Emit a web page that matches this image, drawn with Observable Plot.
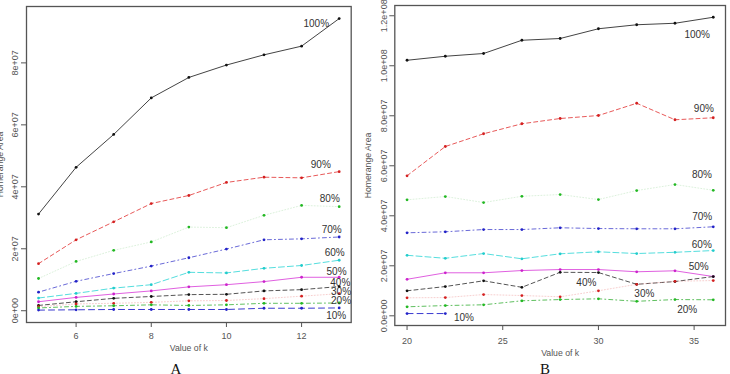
<!DOCTYPE html>
<html>
<head>
<meta charset="utf-8">
<script src="https://cdn.jsdelivr.net/npm/d3@7"></script>
<script src="https://cdn.jsdelivr.net/npm/@observablehq/plot@0.6"></script>
<style>
  html, body { margin: 0; padding: 0; background: #fff; overflow: hidden; }
  #wrap { position: relative; width: 730px; height: 374px; overflow: hidden; }
  .panel { position: absolute; top: 0; }
  .cap { position: absolute; font-family: "Liberation Serif", "Times New Roman", serif; font-size: 15px; line-height: 15px; color: #111; transform: translateX(-50%); }
</style>
</head>
<body>
<div id="wrap"></div>
<script>
// ---------------- Panel A data ----------------
const kA = [5, 6, 7, 8, 9, 10, 11, 12, 13];
const A100 = [3.12e7, 4.63e7, 5.69e7, 6.87e7, 7.53e7, 7.93e7, 8.26e7, 8.54e7, 9.43e7];
const A90  = [1.52e7, 2.29e7, 2.87e7, 3.46e7, 3.72e7, 4.14e7, 4.31e7, 4.29e7, 4.49e7];
const A80  = [1.04e7, 1.59e7, 1.95e7, 2.22e7, 2.70e7, 2.68e7, 3.08e7, 3.40e7, 3.36e7];
const A70  = [0.60e7, 0.95e7, 1.20e7, 1.44e7, 1.71e7, 1.99e7, 2.29e7, 2.32e7, 2.38e7];
const A60  = [0.41e7, 0.56e7, 0.73e7, 0.84e7, 1.24e7, 1.22e7, 1.37e7, 1.46e7, 1.63e7];
const A50  = [0.29e7, 0.43e7, 0.54e7, 0.64e7, 0.77e7, 0.84e7, 0.94e7, 1.08e7, 1.08e7];
const A40  = [0.17e7, 0.29e7, 0.40e7, 0.46e7, 0.52e7, 0.53e7, 0.64e7, 0.68e7, 0.78e7];
const A30  = [0.13e7, 0.22e7, 0.24e7, 0.27e7, 0.32e7, 0.33e7, 0.39e7, 0.47e7, 0.55e7];
const A20  = [0.09e7, 0.14e7, 0.16e7, 0.19e7, 0.17e7, 0.19e7, 0.24e7, 0.24e7, 0.25e7];
const A10  = [0.02e7, 0.03e7, 0.04e7, 0.04e7, 0.04e7, 0.04e7, 0.08e7, 0.08e7, 0.09e7];
const xTicksA = [6, 8, 10, 12];
const yTicksA = [0, 2e7, 4e7, 6e7, 8e7];
const yTickLabelsA = ["0e+00", "2e+07", "4e+07", "6e+07", "8e+07"];
const labelsA = ["100%", "90%", "80%", "70%", "60%", "50%", "40%", "30%", "20%", "10%"];
const labelKA = [12.39, 12.51, 12.75, 12.80, 12.88, 12.93, 13.03, 13.05, 13.05, 12.92];
const labelVA = [9.27e7, 4.70e7, 3.60e7, 2.62e7, 1.87e7, 1.26e7, 0.91e7, 0.61e7, 0.32e7, -0.16e7];

// ---------------- Panel B data ----------------
const kB = [20, 22, 24, 26, 28, 30, 32, 34, 36];
const kB10 = [20, 22];
const B100 = [10.22e7, 10.38e7, 10.49e7, 11.02e7, 11.09e7, 11.48e7, 11.64e7, 11.70e7, 11.94e7];
const B90  = [5.60e7, 6.77e7, 7.28e7, 7.68e7, 7.89e7, 8.01e7, 8.50e7, 7.84e7, 7.92e7];
const B80  = [4.64e7, 4.77e7, 4.53e7, 4.78e7, 4.85e7, 4.65e7, 5.01e7, 5.25e7, 5.02e7];
const B70  = [3.32e7, 3.36e7, 3.45e7, 3.45e7, 3.52e7, 3.49e7, 3.48e7, 3.48e7, 3.56e7];
const B60  = [2.42e7, 2.30e7, 2.49e7, 2.28e7, 2.48e7, 2.56e7, 2.49e7, 2.54e7, 2.61e7];
const B50  = [1.46e7, 1.72e7, 1.72e7, 1.81e7, 1.85e7, 1.85e7, 1.76e7, 1.80e7, 1.57e7];
const B40  = [1.00e7, 1.17e7, 1.40e7, 1.14e7, 1.74e7, 1.73e7, 1.26e7, 1.37e7, 1.57e7];
const B30  = [0.72e7, 0.73e7, 0.85e7, 0.81e7, 0.76e7, 1.00e7, 1.26e7, 1.38e7, 1.41e7];
const B20  = [0.36e7, 0.41e7, 0.44e7, 0.60e7, 0.65e7, 0.68e7, 0.58e7, 0.65e7, 0.64e7];
const B10  = [0.09e7, 0.09e7];
const xTicksB = [20, 25, 30, 35];
const yTicksB = [0, 2e7, 4e7, 6e7, 8e7, 1e8, 1.2e8];
const yTickLabelsB = ["0.0e+00", "2.0e+07", "4.0e+07", "6.0e+07", "8.0e+07", "1.0e+08", "1.2e+08"];
const labelsB = ["100%", "90%", "80%", "70%", "60%", "50%", "40%", "30%", "20%", "10%"];
const labelKB = [35.16, 35.51, 35.41, 35.42, 35.40, 35.24, 29.37, 32.40, 34.64, 22.97];
const labelVB = [11.22e7, 8.28e7, 5.65e7, 3.94e7, 2.85e7, 1.94e7, 1.32e7, 0.88e7, 0.24e7, -0.06e7];

// ---------------- styles (per level, 100% .. 10%) ----------------
const lineColors  = ["#444", "#e85a5a", "#9ad89a", "#6a6ad8", "#55dede", "#e060e0", "#555", "#f0a0a0", "#60c060", "#3a3ad0"];
const lineOpacity = [1, 1, 0.35, 1, 1, 1, 1, 0.5, 1, 1];
const dotColors   = ["#111", "#d42020", "#22b822", "#2222c8", "#22cccc", "#cc22cc", "#111", "#d42020", "#22b822", "#2222c8"];
const dashes      = [null, "4,3", "1,2", "1,3,4,3", "6,3", null, "4,3", "1,2", "1,3,4,3", "6,4"];

function panel(cfg) {
  const marks = [];
  cfg.series.forEach((s, i) => {
    marks.push(Plot.line(s.k, {
      x: d => d, y: (d, j) => s.v[j],
      stroke: lineColors[i], strokeOpacity: lineOpacity[i], strokeWidth: 1,
      strokeDasharray: dashes[i] || undefined
    }));
  });
  cfg.series.forEach((s, i) => {
    marks.push(Plot.dot(s.k, {
      x: d => d, y: (d, j) => s.v[j], r: 1.4, fill: dotColors[i], stroke: "none"
    }));
  });
  return Plot.plot({
    width: cfg.width, height: 360,
    marginLeft: cfg.ml, marginRight: cfg.mr, marginTop: cfg.mt, marginBottom: 360 - cfg.fb,
    style: { fontFamily: "'Liberation Sans', Arial, sans-serif", fontSize: "9px", color: "#555", background: "transparent", overflow: "visible" },
    x: { domain: cfg.xd },
    y: { domain: cfg.yd },
    marks: [
      Plot.axisX({ ticks: cfg.xt, tickSize: 5, tickPadding: cfg.xpad, label: null, tickFormat: d => String(d) }),
      Plot.axisY({ ticks: cfg.yt, tickSize: 5, tickPadding: cfg.ypad, label: null, tickRotate: -90,
                   tickFormat: d => cfg.yl[cfg.yt.indexOf(d)] }),
      ...marks,
      Plot.frame({ stroke: "#555", strokeWidth: 1.3 }),
      Plot.text(cfg.labels, { x: (d, i) => cfg.lk[i], y: (d, i) => cfg.lv[i], text: d => d,
                              fontSize: 10, fill: "#333", fontFamily: "'Liberation Sans', Arial, sans-serif" }),
      Plot.text(["Value of k"], { frameAnchor: "bottom", text: d => d, textAnchor: "middle", lineAnchor: "middle",
                                  dy: cfg.xlab, fontSize: 8.7, fill: "#555" }),
      Plot.text(["Homerange Area"], { frameAnchor: "left", text: d => d, rotate: -90, textAnchor: "middle", lineAnchor: "middle",
                                      dx: -26.6, fontSize: 8.7, fill: "#555" })
    ]
  });
}

const wrap = document.getElementById("wrap");

const pa = panel({
  width: 360, ml: 26, mr: 9.3, mt: 6, fb: 322,
  xd: [4.68, 13.32], yd: [-0.38e7, 9.82e7],
  xt: xTicksA, yt: yTicksA, yl: yTickLabelsA, xpad: 5, ypad: 4, xlab: 26,
  labels: labelsA, lk: labelKA, lv: labelVA,
  series: [
    { k: kA, v: A100 }, { k: kA, v: A90 }, { k: kA, v: A80 }, { k: kA, v: A70 }, { k: kA, v: A60 },
    { k: kA, v: A50 }, { k: kA, v: A40 }, { k: kA, v: A30 }, { k: kA, v: A20 }, { k: kA, v: A10 }
  ]
});
pa.classList.add("panel"); pa.style.left = "0px";
wrap.appendChild(pa);

const pb = panel({
  width: 365, ml: 29.3, mr: 5, mt: 5, fb: 325,
  xd: [19.36, 36.64], yd: [-0.388e7, 12.41e7],
  xt: xTicksB, yt: yTicksB, yl: yTickLabelsB, xpad: 7, ypad: 3, xlab: 27.7,
  labels: labelsB, lk: labelKB, lv: labelVB,
  series: [
    { k: kB, v: B100 }, { k: kB, v: B90 }, { k: kB, v: B80 }, { k: kB, v: B70 }, { k: kB, v: B60 },
    { k: kB, v: B50 }, { k: kB, v: B40 }, { k: kB, v: B30 }, { k: kB, v: B20 }, { k: kB10, v: B10 }
  ]
});
pb.classList.add("panel"); pb.style.left = "365px";
wrap.appendChild(pb);

const capA = document.createElement("div");
capA.className = "cap"; capA.textContent = "A"; capA.style.left = "176px"; capA.style.top = "362px";
wrap.appendChild(capA);
const capB = document.createElement("div");
capB.className = "cap"; capB.textContent = "B"; capB.style.left = "545px"; capB.style.top = "362px";
wrap.appendChild(capB);
</script>
</body>
</html>
